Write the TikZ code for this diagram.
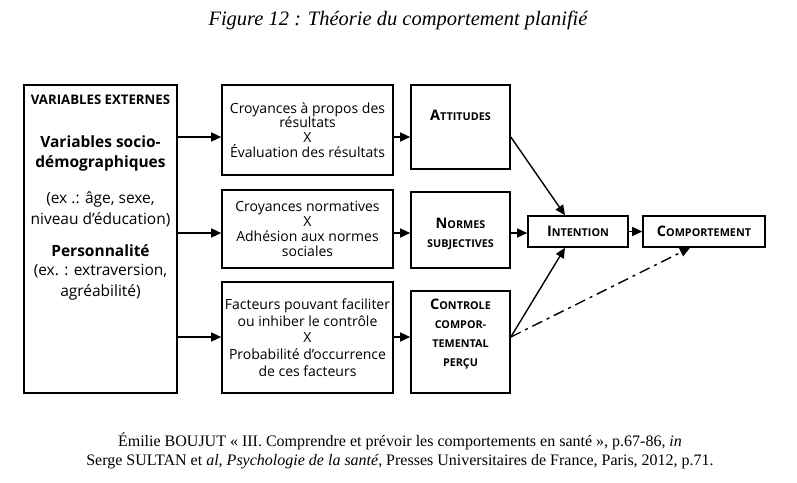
\documentclass[tikz,border=0pt]{standalone}
\usepackage{fontspec}
\setmainfont{Liberation Serif}
\newfontfamily\diagfont{Open Sans}
\usetikzlibrary{positioning,arrows.meta}

\newcommand{\capsA}[2]{{\fontsize{14.5}{19}\selectfont #1}{\fontsize{10.8}{19}\selectfont #2}}
\newcommand{\capsB}[1]{{\fontsize{10.8}{19}\selectfont #1}}

\tikzset{
  box/.style={draw, line width=1.6pt, rectangle, inner sep=0pt, align=center,
    font=\diagfont\fontsize{14}{14.7}\selectfont},
  keybox/.style={box, font=\diagfont\bfseries\fontsize{10.8}{19}\selectfont},
  arr/.style={line width=1.4pt, -{Triangle[length=10pt,width=9pt]}},
  txt/.style={align=center, inner sep=0pt, font=\diagfont\fontsize{15.5}{21}\selectfont},
  txtbold/.style={txt, font=\diagfont\bfseries\fontsize{15.5}{20}\selectfont}
}

\begin{document}
\begin{tikzpicture}[x=1pt,y=-1pt]
	\useasboundingbox (0,0) rectangle (797,482);
	% title
	\node[font=\itshape\fontsize{20.5}{24}\selectfont] (title) at (398,20) {Figure 12 : Théorie du comportement planifié};

	% left column
	\node[box, minimum width=153pt, minimum height=308pt] (ext) at (100.5,239) {};
	\node[txtbold, font=\diagfont\bfseries\fontsize{13.2}{16}\selectfont] (exthead) at (100.5,100) {VARIABLES EXTERNES};
	\node[txtbold] (socio) at (100.5,153) {Variables socio-\\démographiques};
	\node[txt] (socioex) at (100.5,209) {(ex .: âge, sexe,\\niveau d’éducation)};
	\node[txtbold] (perso) at (100.5,251) {Personnalité};
	\node[txt] (persoex) at (100.5,282) {(ex. : extraversion,\\agréabilité)};

	% middle column
	\node[box, minimum width=171pt, minimum height=90pt] (cr1) at (307.5,130) {Croyances à propos des\\résultats\\X\\Évaluation des résultats};
	\node[box, minimum width=171pt, minimum height=78pt, font=\diagfont\fontsize{14}{15}\selectfont] (cr2) at (307.5,229) {Croyances normatives\\X\\Adhésion aux normes\\sociales};
	\node[box, minimum width=171pt, minimum height=111pt, font=\diagfont\fontsize{14}{16.7}\selectfont] (cr3) at (307.5,337.5) {Facteurs pouvant faciliter\\ou inhiber le contrôle\\X\\Probabilité d’occurrence\\de ces facteurs};

	% right column
	\node[keybox, minimum width=99pt, minimum height=84pt, text depth=23pt] (att) at (460.5,127) {\capsA{A}{TTITUDES}};
	\node[keybox, minimum width=99pt, minimum height=76pt, text height=34pt, text depth=0pt] (nor) at (460.5,230) {\capsA{N}{ORMES}\\\capsB{SUBJECTIVES}};
	\node[keybox, minimum width=99pt, minimum height=102pt, text depth=18pt] (ctl) at (460.5,342) {\capsA{C}{ONTROLE}\\\capsB{COMPOR-}\\\capsB{TEMENTAL}\\\capsB{PERÇU}};
	\node[keybox, minimum width=100pt, minimum height=31pt] (int) at (578,231.5) {\capsA{I}{NTENTION}};
	\node[keybox, minimum width=122pt, minimum height=31pt] (comp) at (704,231.5) {\capsA{C}{OMPORTEMENT}};

	% rows of the arrows
	\coordinate (row1) at (0,137);
	\coordinate (row2) at (0,233);
	\coordinate (row3) at (0,337);

	\draw[arr] (ext.east |- row1) -- (cr1.west |- row1);
	\draw[arr] (ext.east |- row2) -- (cr2.west |- row2);
	\draw[arr] (ext.east |- row3) -- (cr3.west |- row3);
	\draw[arr] (cr1.east |- row1) -- (att.west |- row1);
	\draw[arr] (cr2.east |- row2) -- (nor.west |- row2);
	\draw[arr] (cr3.east |- row3) -- (ctl.west |- row3);

	\draw[arr] (att.east |- row1) -- ([xshift=-13pt]int.north);
	\draw[arr] (nor.east |- row2) -- (int.west |- row2);
	\draw[arr] (ctl.east |- row3) -- ([xshift=-13pt]int.south);
	\draw[arr] (int.east) -- (comp.west);
	\draw[arr, dash pattern=on 11pt off 5pt on 3pt off 5pt] (ctl.east |- row3) -- ([xshift=-14pt]comp.south);

	% source
	\node[font=\fontsize{16}{18.5}\selectfont, align=center] (source) at (400,451) {Émilie BOUJUT « III. Comprendre et prévoir les comportements en santé », p.67-86, \textit{in}\\Serge SULTAN et \textit{al, Psychologie de la santé}, Presses Universitaires de France, Paris, 2012, p.71.};
\end{tikzpicture}
\end{document}
